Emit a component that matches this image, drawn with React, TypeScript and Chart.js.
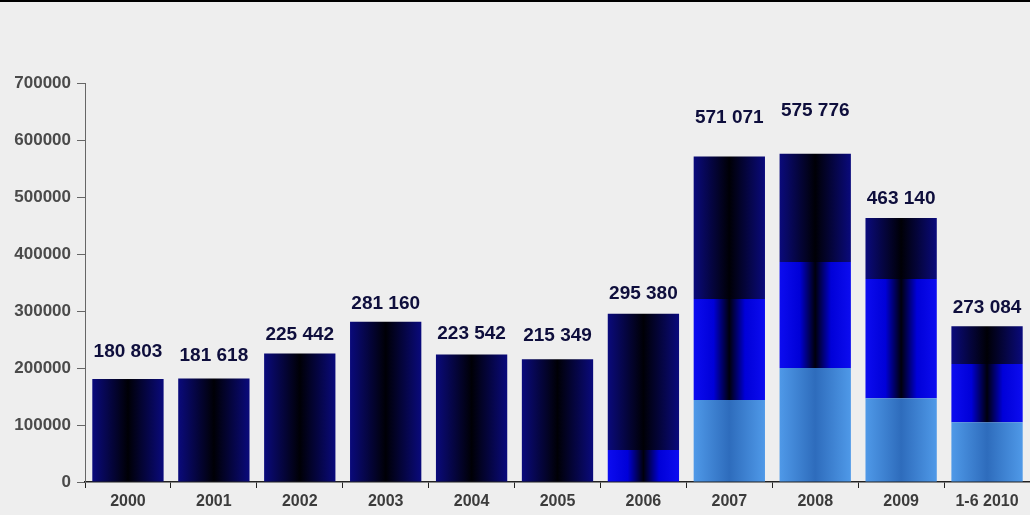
import React, { useEffect, useRef } from "react";
import { Chart, registerables } from "chart.js";

Chart.register(...registerables);

const categories = ["2000", "2001", "2002", "2003", "2004", "2005", "2006", "2007", "2008", "2009", "1-6 2010"];
const totals = [180803, 181618, 225442, 281160, 223542, 215349, 295380, 571071, 575776, 463140, 273084];
const lightPart = [0, 0, 0, 0, 0, 0, 0, 144000, 200000, 147000, 105000];
const midPart = [0, 0, 0, 0, 0, 0, 56000, 177000, 186000, 209000, 102000];
const yTicks = [0, 100000, 200000, 300000, 400000, 500000, 600000, 700000];
const labelLift = [27, 23, 19, 18, 21, 23, 20, 39, 43, 19, 19];

const darkPart = totals.map((t, i) => t - lightPart[i] - midPart[i]);
const CAT_PCT = 0.83;

function fmt(n: number) {
  return String(n).replace(/\B(?=(\d{3})+(?!\d))/g, " ");
}

function gradFill(stops: [number, string][]) {
  return (c: any) => {
    const chart = c.chart;
    const xs = chart.scales && chart.scales.x;
    if (!xs || !xs.width) return stops[0][1];
    const cx = xs.getPixelForValue(c.dataIndex);
    const half = ((xs.width / categories.length) * CAT_PCT) / 2;
    const g = chart.ctx.createLinearGradient(cx - half, 0, cx + half, 0);
    stops.forEach(([p, col]) => g.addColorStop(p, col));
    return g;
  };
}

const bgPlugin = {
  id: "bgPlugin",
  beforeDraw(chart: any) {
    const ctx = chart.ctx;
    ctx.save();
    ctx.fillStyle = "#eeeeee";
    ctx.fillRect(0, 0, chart.width, chart.height);
    ctx.fillStyle = "#000000";
    ctx.fillRect(0, 0, chart.width, 2);
    ctx.restore();
  },
};

const labelPlugin = {
  id: "labelPlugin",
  afterDatasetsDraw(chart: any) {
    const ctx = chart.ctx;
    const xs = chart.scales.x;
    const ys = chart.scales.y;
    ctx.save();
    ctx.font = "bold 19px Arial, 'Liberation Sans', sans-serif";
    ctx.fillStyle = "#0e0e3c";
    ctx.textAlign = "center";
    ctx.textBaseline = "middle";
    totals.forEach((t, i) => {
      const x = xs.getPixelForValue(i);
      const y = ys.getPixelForValue(t) - labelLift[i];
      ctx.fillText(fmt(t), x, y);
    });
    ctx.restore();
  },
};

export default function App() {
  const ref = useRef<HTMLCanvasElement | null>(null);
  useEffect(() => {
    if (!ref.current) return;
    const chart = new Chart(ref.current, {
      type: "bar",
      data: {
        labels: categories,
        datasets: [
          {
            label: "light",
            data: lightPart,
            backgroundColor: gradFill([
              [0, "#4f99e8"],
              [0.5, "#2e6cbc"],
              [1, "#4f99e8"],
            ]),
            categoryPercentage: CAT_PCT,
            barPercentage: 1,
          },
          {
            label: "mid",
            data: midPart,
            backgroundColor: gradFill([
              [0, "#0c0cf0"],
              [0.28, "#0000d8"],
              [0.5, "#00000c"],
              [0.72, "#0000d8"],
              [1, "#0c0cf0"],
            ]),
            categoryPercentage: CAT_PCT,
            barPercentage: 1,
          },
          {
            label: "dark",
            data: darkPart,
            backgroundColor: gradFill([
              [0, "#0a0a7c"],
              [0.5, "#000006"],
              [1, "#0a0a7c"],
            ]),
            categoryPercentage: CAT_PCT,
            barPercentage: 1,
          },
        ],
      },
      options: {
        responsive: false,
        animation: false,
        layout: { padding: { top: 83, left: 0, right: 0, bottom: 0 } },
        plugins: {
          legend: { display: false },
          tooltip: { enabled: false },
          title: { display: false },
        },
        scales: {
          x: {
            stacked: true,
            grid: {
              display: true,
              drawOnChartArea: false,
              offset: true,
              tickLength: 6,
              color: "#222222",
            },
            border: { display: true, color: "#222222", width: 1.5 },
            ticks: {
              color: "#3c3c3c",
              padding: 4,
              font: { family: "Arial, 'Liberation Sans', sans-serif", size: 16, weight: "bold" },
              maxRotation: 0,
              autoSkip: false,
            },
            afterFit: (s: any) => {
              s.height = 33;
            },
          },
          y: {
            stacked: true,
            min: 0,
            max: 700000,
            grid: {
              display: true,
              drawOnChartArea: false,
              tickLength: 8,
              color: "#666666",
            },
            border: { display: true, color: "#666666", width: 1 },
            afterBuildTicks: (s: any) => {
              s.ticks = yTicks.map((v) => ({ value: v }));
            },
            ticks: {
              color: "#4a4a4a",
              padding: 6,
              font: { family: "Arial, 'Liberation Sans', sans-serif", size: 17, weight: "bold" },
              callback: (v: any) => String(v),
            },
            afterFit: (s: any) => {
              s.width = 85;
            },
          },
        },
      },
      plugins: [bgPlugin, labelPlugin],
    });
    return () => chart.destroy();
  }, []);
  return (
    <div style={{ position: "fixed", left: 0, top: 0, width: 1030, height: 515, background: "#eeeeee" }}>
      <canvas ref={ref} width={1030} height={515} style={{ display: "block" }} />
    </div>
  );
}
